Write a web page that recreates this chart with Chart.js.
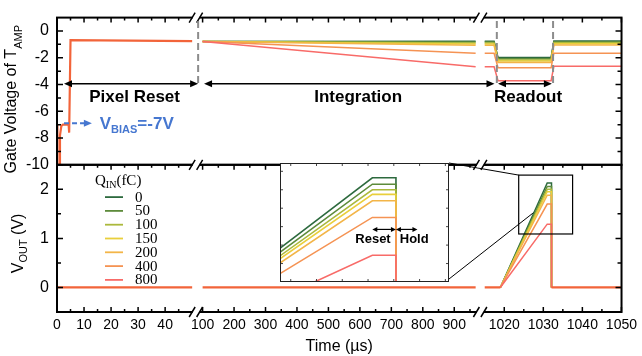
<!DOCTYPE html>
<html>
<head>
<meta charset="utf-8">
<script src="https://cdn.jsdelivr.net/npm/chart.js@4.4.1/dist/chart.umd.min.js"></script>
<style>
  html, body { margin: 0; padding: 0; background: #fff; }
  #wrap { position: relative; width: 642px; height: 356px; }
  #inset { position: absolute; left: 280px; top: 163px; width: 169px; height: 119px; background: #fff; }
  canvas { display: block; }
</style>
</head>
<body>
<div id="wrap">
  <canvas id="main" width="642" height="356"></canvas>
  <div id="inset"><canvas id="insetCanvas" width="169" height="119"></canvas></div>
</div>
<script>
Chart.defaults.font.family = '"Liberation Sans", Arial, Helvetica, sans-serif';
Chart.defaults.color = '#000';

// Charges and line colours
const charges = ['0', '50', '100', '150', '200', '400', '800'];
const chargeColors = ['#2d6a3e', '#5d8b3b', '#abb93c', '#e9cf3c', '#f3b548', '#f59353', '#f86b68'];
const commonColor = '#f2643a';

// Tick values (time in µs, axis is broken twice)
const xMajor = [0, 10, 20, 30, 40, 100, 200, 300, 400, 500, 600, 700, 800, 900, 1020, 1030, 1040, 1050];
const xLabels = ['0', '10', '20', '30', '40', '100', '200', '300', '400', '500', '600', '700', '800', '900', '1020', '1030', '1040', '1050'];
const xMinor = [5, 15, 25, 35, 45, 150, 250, 350, 450, 550, 650, 750, 850, 950, 1025, 1035, 1045];
const gateTicks = [-10, -8, -6, -4, -2, 0];
const gateMinor = [-9, -7, -5, -3, -1];
const voutTicks = [0, 1, 2];
const voutMinor = [0.5, 1.5];

// Gate voltage during pixel reset (all charges overlap)
const resetTime = [0, 0.15, 0.8, 1.1, 1.6, 2.2, 4.3, 4.5, 5.0, 50];
const resetGate = [-7, -10, -10, -7.8, -7.1, -7, -7, -7.6, -0.68, -0.76];

// Gate voltage: integration, break, readout
const gateTime = [100, 968, 990, 1015, 1017.4, 1018.4, 1032.0, 1032.7, 1050];
const gateQ0   = [-0.78, -0.76, null, -0.76, -0.76, -1.98, -1.98, -0.74, -0.74];
const gateQ50  = [-0.78, -0.82, null, -0.82, -0.82, -2.07, -2.07, -0.80, -0.80];
const gateQ100 = [-0.78, -0.90, null, -0.90, -0.90, -2.16, -2.16, -0.88, -0.88];
const gateQ150 = [-0.78, -0.98, null, -0.98, -0.98, -2.25, -2.25, -0.96, -0.96];
const gateQ200 = [-0.78, -1.07, null, -1.07, -1.07, -2.36, -2.36, -1.05, -1.05];
const gateQ400 = [-0.78, -1.67, null, -1.67, -1.67, -2.75, -2.75, -1.66, -1.66];
const gateQ800 = [-0.78, -2.68, null, -2.68, -2.68, -3.72, -3.72, -2.64, -2.64];

// Output voltage baseline (all charges overlap)
const baseTime = [0, 50, 75, 100, 968, 990, 1015, 1019, 1025, 1032.1, 1050];
const baseVout = [0, 0, null, 0, 0, null, 0, 0, null, 0, 0];

// Output voltage ramp during readout
const voutTime = [1019, 1031, 1032.1, 1032.1];
const voutQ0   = [0, 2.13, 2.13, 0];
const voutQ50  = [0, 2.06, 2.06, 0];
const voutQ100 = [0, 2.00, 2.00, 0];
const voutQ150 = [0, 1.95, 1.95, 0];
const voutQ200 = [0, 1.88, 1.88, 0];
const voutQ400 = [0, 1.70, 1.70, 0];
const voutQ800 = [0, 1.29, 1.29, 0];

const gateSeries = [gateQ0, gateQ50, gateQ100, gateQ150, gateQ200, gateQ400, gateQ800];
const voutSeries = [voutQ0, voutQ50, voutQ100, voutQ150, voutQ200, voutQ400, voutQ800];

// broken time axis -> position on a continuous axis
function vx(t) {
  if (t <= 60) return t * 2.72;
  if (t <= 990) return 146.5 + (t - 100) * 0.3165;
  return 450 + (t - 1020) * 3.93;
}
const breaks = [140, 426];

function pts(times, vals, map) {
  return times.map((t, i) => ({ x: map(t), y: vals[i] }));
}

const datasets = [
  { data: pts(resetTime, resetGate, vx), yAxisID: 'yTop', borderColor: commonColor, borderWidth: 2.2, order: 0 },
  { data: pts(baseTime, baseVout, vx), yAxisID: 'yBot', borderColor: commonColor, borderWidth: 2.2, order: 0 }
];
charges.forEach((q, i) => {
  datasets.push({ label: q, data: pts(gateTime, gateSeries[i], vx), yAxisID: 'yTop', borderColor: chargeColors[i], borderWidth: 1.5, order: 7 - i });
  datasets.push({ label: q, data: pts(voutTime, voutSeries[i], vx), yAxisID: 'yBot', borderColor: chargeColors[i], borderWidth: 1.5, order: 7 - i });
});

// text with subscripts
function richText(ctx, parts, x, y, align, family, weight) {
  let w = 0;
  parts.forEach(p => { ctx.font = weight + ' ' + p.s + 'px ' + family; p.w = ctx.measureText(p.t).width; w += p.w; });
  let cx = align === 'center' ? x - w / 2 : x;
  ctx.textAlign = 'left';
  ctx.textBaseline = 'alphabetic';
  parts.forEach(p => {
    ctx.font = weight + ' ' + p.s + 'px ' + family;
    ctx.fillText(p.t, cx, y + (p.dy || 0));
    cx += p.w;
  });
}

function arrowHead(ctx, x, y, dir) {
  ctx.beginPath();
  ctx.moveTo(x, y);
  ctx.lineTo(x - dir * 8, y - 3.5);
  ctx.lineTo(x - dir * 8, y + 3.5);
  ctx.closePath();
  ctx.fill();
}

function doubleArrow(ctx, x1, x2, y) {
  ctx.beginPath();
  ctx.moveTo(x1 + 4, y);
  ctx.lineTo(x2 - 4, y);
  ctx.stroke();
  arrowHead(ctx, x1, y, -1);
  arrowHead(ctx, x2, y, 1);
}

const sans = '"Liberation Sans", Arial, Helvetica, sans-serif';
const serif = '"Liberation Serif", "Times New Roman", serif';

const framePlugin = {
  id: 'frame',
  beforeDatasetsDraw(chart) {
    const { ctx, scales: { x, yBot } } = chart;
    const box = document.getElementById('inset');
    const l = box.offsetLeft, t = box.offsetTop, r = l + box.offsetWidth, b = t + box.offsetHeight;
    ctx.save();
    ctx.strokeStyle = '#000';
    ctx.lineWidth = 1;
    ctx.beginPath();
    ctx.moveTo(r, t);
    ctx.lineTo(x.getPixelForValue(vx(1023.7)), yBot.getPixelForValue(2.29));
    ctx.moveTo(r, b - 3);
    ctx.lineTo(x.getPixelForValue(vx(1027.9)), yBot.getPixelForValue(1.55));
    ctx.stroke();
    ctx.restore();
  },
  afterDatasetsDraw(chart) {
    const { ctx, chartArea: a, scales: { x, yTop, yBot } } = chart;
    const px = t => x.getPixelForValue(vx(t));
    ctx.save();

    // zoom box in the output panel
    ctx.strokeStyle = '#000';
    ctx.lineWidth = 1.2;
    const bx1 = px(1023.7), bx2 = px(1037.5), by1 = yBot.getPixelForValue(2.29), by2 = yBot.getPixelForValue(1.09);
    ctx.strokeRect(bx1, by1, bx2 - bx1, by2 - by1);

    // panel frames
    ctx.lineWidth = 2;
    [yTop, yBot].forEach(s => ctx.strokeRect(a.left, s.top, a.right - a.left, s.bottom - s.top));

    // inward ticks
    ctx.lineWidth = 1.5;
    ctx.beginPath();
    const xt = (list, len, y, dir) => list.forEach(t => { const p = px(t); ctx.moveTo(p, y); ctx.lineTo(p, y + dir * len); });
    [[yTop.top, 1], [yBot.top, 1], [yBot.bottom, -1]].forEach(([y, d]) => { xt(xMajor, 5, y, d); xt(xMinor, 3, y, d); });
    const yt = (s, list, len) => list.forEach(v => {
      const p = s.getPixelForValue(v);
      ctx.moveTo(a.left, p); ctx.lineTo(a.left + len, p);
      ctx.moveTo(a.right, p); ctx.lineTo(a.right - len, p);
    });
    yt(yTop, gateTicks, 6); yt(yTop, gateMinor, 4);
    yt(yBot, voutTicks, 6); yt(yBot, voutMinor, 4);
    ctx.stroke();

    // axis breaks
    breaks.forEach(bv => {
      const bxp = x.getPixelForValue(bv);
      [yTop.top, yBot.top, yBot.bottom].forEach(y => {
        ctx.fillStyle = '#fff';
        ctx.fillRect(bxp - 3.5, y - 2.5, 7, 5);
        ctx.beginPath();
        ctx.moveTo(bxp - 7, y + 5); ctx.lineTo(bxp - 1, y - 5);
        ctx.moveTo(bxp + 0.5, y + 5); ctx.lineTo(bxp + 6.5, y - 5);
        ctx.strokeStyle = '#000';
        ctx.lineWidth = 1.5;
        ctx.stroke();
      });
    });

    // phase markers
    ctx.strokeStyle = '#8c8c8c';
    ctx.lineWidth = 2;
    ctx.setLineDash([7, 4]);
    const dTop = yTop.getPixelForValue(0.75), dBot = yTop.getPixelForValue(-3.9);
    [x.getPixelForValue(breaks[0] + 2), px(1018.1), px(1032.5)].forEach(p => {
      ctx.beginPath(); ctx.moveTo(p, dTop); ctx.lineTo(p, dBot); ctx.stroke();
    });
    ctx.setLineDash([]);

    ctx.strokeStyle = '#000';
    ctx.fillStyle = '#000';
    ctx.lineWidth = 1.5;
    const ay = yTop.getPixelForValue(-3.95);
    doubleArrow(ctx, px(2.6), x.getPixelForValue(breaks[0] + 2), ay);
    doubleArrow(ctx, px(104.7), px(1017.5), ay);
    doubleArrow(ctx, px(1018.4), px(1032.2), ay);

    ctx.font = 'bold 17px ' + sans;
    ctx.textAlign = 'center';
    ctx.textBaseline = 'middle';
    const ty = yTop.getPixelForValue(-4.98);
    ctx.fillText('Pixel Reset', px(28.7), ty);
    ctx.fillText('Integration', px(594.5), ty);
    ctx.fillText('Readout', px(1026.1), ty);

    // V_BIAS annotation
    const blue = '#4677d0';
    const vy = yTop.getPixelForValue(-6.9);
    ctx.strokeStyle = blue;
    ctx.fillStyle = blue;
    ctx.lineWidth = 2;
    ctx.setLineDash([5, 3]);
    ctx.beginPath(); ctx.moveTo(px(2.6), vy); ctx.lineTo(px(12.9) - 6, vy); ctx.stroke();
    ctx.setLineDash([]);
    arrowHead(ctx, px(12.9), vy, 1);
    richText(ctx, [{ t: 'V', s: 17 }, { t: 'BIAS', s: 11, dy: 4 }, { t: '=-7V', s: 17 }], px(15.8), vy + 6, 'left', sans, 'bold');

    // legend
    ctx.fillStyle = '#000';
    const lx = a.left, ly = yBot.top;
    richText(ctx, [{ t: 'Q', s: 15 }, { t: 'IN', s: 10, dy: 3 }, { t: '(fC)', s: 15 }], lx + 38, ly + 20, 'left', serif, 'normal');
    charges.forEach((q, i) => {
      const ry = ly + 32.3 + i * 13.8;
      ctx.strokeStyle = chargeColors[i];
      ctx.lineWidth = 1.8;
      ctx.beginPath(); ctx.moveTo(lx + 48, ry); ctx.lineTo(lx + 66, ry); ctx.stroke();
      ctx.fillStyle = '#000';
      ctx.font = '15px ' + serif;
      ctx.textAlign = 'left';
      ctx.textBaseline = 'middle';
      ctx.fillText(q, lx + 78, ry + 0.5);
    });

    // y axis titles
    ctx.fillStyle = '#000';
    ctx.save();
    ctx.translate(0, (yTop.top + yTop.bottom) / 2 + 8);
    ctx.rotate(-Math.PI / 2);
    richText(ctx, [{ t: 'Gate Voltage of T', s: 16 }, { t: 'AMP', s: 11, dy: 6 }], 0, 16, 'center', sans, 'normal');
    ctx.restore();
    ctx.save();
    ctx.translate(0, (yBot.top + yBot.bottom) / 2 + 5);
    ctx.rotate(-Math.PI / 2);
    richText(ctx, [{ t: 'V', s: 16 }, { t: 'OUT', s: 11, dy: 4 }, { t: ' (V)', s: 16 }], 0, 23, 'center', sans, 'normal');
    ctx.restore();

    ctx.restore();
  }
};

new Chart(document.getElementById('main'), {
  type: 'line',
  data: { datasets },
  options: {
    responsive: false,
    animation: false,
    layout: { padding: { top: 8, right: 17, left: 0, bottom: 0 } },
    plugins: { legend: { display: false }, tooltip: { enabled: false } },
    elements: { point: { radius: 0 }, line: { tension: 0 } },
    scales: {
      x: {
        type: 'linear', min: 0, max: 568,
        grid: { display: false, drawTicks: false }, border: { display: false },
        afterBuildTicks: s => { s.ticks = xMajor.map(t => ({ value: vx(t) })); },
        afterFit: s => { s.height = 44; },
        ticks: { autoSkip: false, maxRotation: 0, padding: 5, font: { size: 14 }, callback: (v, i) => xLabels[i] },
        title: { display: true, text: 'Time (µs)', font: { size: 16 }, padding: 0 }
      },
      // stacked panels: the scale listed last is placed on top
      yBot: {
        type: 'linear', position: 'left', stack: 'panels', stackWeight: 1, min: -0.5, max: 2.5,
        grid: { display: false, drawTicks: false }, border: { display: false },
        afterBuildTicks: s => { s.ticks = voutTicks.map(v => ({ value: v })); },
        afterFit: s => { s.width = 57; },
        ticks: { autoSkip: false, padding: 8, font: { size: 16 } }
      },
      yTop: {
        type: 'linear', position: 'left', stack: 'panels', stackWeight: 1, min: -10, max: 1,
        grid: { display: false, drawTicks: false }, border: { display: false },
        afterBuildTicks: s => { s.ticks = gateTicks.map(v => ({ value: v })); },
        afterFit: s => { s.width = 57; },
        ticks: { autoSkip: false, padding: 8, font: { size: 16 } }
      }
    }
  },
  plugins: [framePlugin]
});

// zoomed inset of the output ramps
const insetXTicks = [1027.2, 1028.4, 1029.6, 1030.8, 1032.0, 1033.2, 1034.4];
const insetYTicks = [1.2, 1.4, 1.6, 1.8, 2.0, 2.2];

const insetPlugin = {
  id: 'insetFrame',
  afterDatasetsDraw(chart) {
    const { ctx, chartArea: a, scales: { x, y } } = chart;
    ctx.save();
    ctx.strokeStyle = '#444';
    ctx.lineWidth = 1;
    ctx.beginPath();
    insetXTicks.forEach(t => {
      const p = x.getPixelForValue(t);
      ctx.moveTo(p, a.top); ctx.lineTo(p, a.top + 3);
      ctx.moveTo(p, a.bottom); ctx.lineTo(p, a.bottom - 3);
    });
    insetYTicks.forEach(v => {
      const p = y.getPixelForValue(v);
      ctx.moveTo(a.left, p); ctx.lineTo(a.left + 3, p);
      ctx.moveTo(a.right, p); ctx.lineTo(a.right - 3, p);
    });
    ctx.stroke();
    ctx.strokeStyle = '#222';
    ctx.strokeRect(a.left + 0.5, a.top + 0.5, a.right - a.left - 1, a.bottom - a.top - 1);

    ctx.strokeStyle = '#000';
    ctx.fillStyle = '#000';
    ctx.lineWidth = 1.2;
    const ry = y.getPixelForValue(1.57);
    const r1 = x.getPixelForValue(1031.0), r2 = x.getPixelForValue(1032.1), r3 = x.getPixelForValue(1033.1);
    [[r1, r2], [r2, r3]].forEach(([p1, p2]) => {
      ctx.beginPath(); ctx.moveTo(p1 + 3, ry); ctx.lineTo(p2 - 3, ry); ctx.stroke();
      [[p1, -1], [p2, 1]].forEach(([p, d]) => {
        ctx.beginPath(); ctx.moveTo(p, ry); ctx.lineTo(p - d * 5, ry - 2.5); ctx.lineTo(p - d * 5, ry + 2.5); ctx.closePath(); ctx.fill();
      });
    });
    ctx.font = 'bold 13px ' + sans;
    ctx.textAlign = 'center';
    ctx.textBaseline = 'middle';
    const ty = y.getPixelForValue(1.46);
    ctx.fillText('Reset', x.getPixelForValue(1031.03), ty);
    ctx.fillText('Hold', x.getPixelForValue(1032.95), ty);
    ctx.restore();
  }
};

const insetSets = charges.map((q, i) => ({
  label: q, data: pts(voutTime, voutSeries[i], t => t), borderColor: chargeColors[i], borderWidth: 1.6, order: 7 - i
}));

new Chart(document.getElementById('insetCanvas'), {
  type: 'line',
  data: { datasets: insetSets },
  options: {
    responsive: false,
    animation: false,
    layout: { padding: 0 },
    plugins: { legend: { display: false }, tooltip: { enabled: false } },
    elements: { point: { radius: 0 }, line: { tension: 0 } },
    scales: {
      x: { type: 'linear', display: false, min: 1026.7, max: 1034.57 },
      y: { type: 'linear', display: false, min: 1.0, max: 2.29 }
    }
  },
  plugins: [insetPlugin]
});
</script>
</body>
</html>
